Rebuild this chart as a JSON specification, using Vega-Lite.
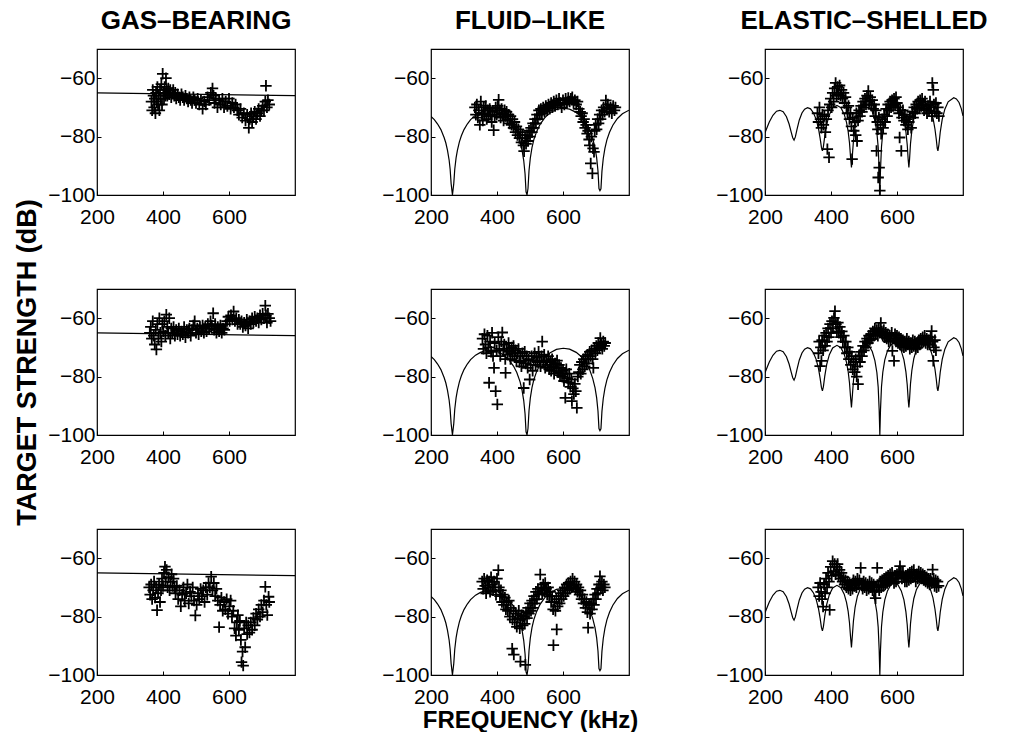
{
"$schema": "https://vega.github.io/schema/vega-lite/v6.json",
"background": "white",
"padding": {"left": 13, "top": 7, "right": 5, "bottom": 0},
"bounds": "flush",
"columns": 3,
"spacing": {"row": 94, "column": 136},
"datasets": {
"gm": [{"freq":200,"ts":-65},{"freq":800,"ts":-66}],
"fm": [{"freq":200,"ts":-73.1},{"freq":210,"ts":-74.2},{"freq":220,"ts":-75.7},{"freq":230,"ts":-77.6},{"freq":240,"ts":-80.4},{"freq":245,"ts":-82.2},{"freq":250,"ts":-84.7},{"freq":255,"ts":-88.1},{"freq":258,"ts":-91.2},{"freq":261,"ts":-96.1},{"freq":265,"ts":-100},{"freq":269,"ts":-96.1},{"freq":272,"ts":-91.2},{"freq":276,"ts":-87.3},{"freq":280,"ts":-84.7},{"freq":286,"ts":-81.8},{"freq":292,"ts":-79.7},{"freq":300,"ts":-77.6},{"freq":310,"ts":-75.7},{"freq":320,"ts":-74.2},{"freq":335,"ts":-72.65},{"freq":350,"ts":-71.7},{"freq":365,"ts":-71.1},{"freq":378,"ts":-71},{"freq":390,"ts":-71.1},{"freq":405,"ts":-71.6},{"freq":420,"ts":-72.6},{"freq":435,"ts":-74.1},{"freq":450,"ts":-76.4},{"freq":460,"ts":-78.6},{"freq":470,"ts":-81.8},{"freq":476,"ts":-84.7},{"freq":481,"ts":-88.2},{"freq":485,"ts":-92.7},{"freq":488,"ts":-98.9},{"freq":491,"ts":-100},{"freq":494,"ts":-97.7},{"freq":497,"ts":-91.7},{"freq":501,"ts":-87.3},{"freq":506,"ts":-83.8},{"freq":512,"ts":-80.9},{"freq":520,"ts":-78.3},{"freq":530,"ts":-75.9},{"freq":545,"ts":-73.5},{"freq":560,"ts":-71.9},{"freq":580,"ts":-70.7},{"freq":601,"ts":-70.3},{"freq":620,"ts":-70.6},{"freq":640,"ts":-71.7},{"freq":655,"ts":-73.1},{"freq":670,"ts":-75.3},{"freq":680,"ts":-77.4},{"freq":690,"ts":-80.6},{"freq":697,"ts":-83.8},{"freq":702,"ts":-87.3},{"freq":706,"ts":-91.8},{"freq":709,"ts":-97.8},{"freq":712,"ts":-98.5},{"freq":715,"ts":-97.9},{"freq":718,"ts":-91.9},{"freq":722,"ts":-87.5},{"freq":727,"ts":-84},{"freq":733,"ts":-81.1},{"freq":741,"ts":-78.5},{"freq":751,"ts":-76.1},{"freq":765,"ts":-73.8},{"freq":780,"ts":-72.2},{"freq":800,"ts":-70.95}],
"em": [{"freq":200,"ts":-78.7},{"freq":206,"ts":-77},{"freq":213,"ts":-75},{"freq":224,"ts":-72.7},{"freq":235,"ts":-71.3},{"freq":245,"ts":-71},{"freq":255,"ts":-71.5},{"freq":265,"ts":-73.2},{"freq":273,"ts":-75.7},{"freq":280,"ts":-78.7},{"freq":284,"ts":-80.4},{"freq":288,"ts":-81.2},{"freq":292,"ts":-80.1},{"freq":297,"ts":-77.5},{"freq":304,"ts":-74.3},{"freq":312,"ts":-71.9},{"freq":320,"ts":-70.6},{"freq":329,"ts":-70.1},{"freq":338,"ts":-70.5},{"freq":347,"ts":-71.9},{"freq":355,"ts":-74.1},{"freq":362,"ts":-77.2},{"freq":367,"ts":-80.5},{"freq":371,"ts":-83.7},{"freq":374,"ts":-84.9},{"freq":377,"ts":-83.4},{"freq":381,"ts":-79.9},{"freq":387,"ts":-75.8},{"freq":395,"ts":-72.5},{"freq":405,"ts":-70.2},{"freq":418,"ts":-69.3},{"freq":430,"ts":-70.1},{"freq":440,"ts":-72.3},{"freq":447,"ts":-75.1},{"freq":452,"ts":-78.2},{"freq":456,"ts":-82.1},{"freq":459,"ts":-86.6},{"freq":462,"ts":-90.6},{"freq":465,"ts":-86.1},{"freq":468,"ts":-81.5},{"freq":473,"ts":-76.8},{"freq":480,"ts":-73},{"freq":490,"ts":-70.2},{"freq":505,"ts":-68.8},{"freq":515,"ts":-69.4},{"freq":525,"ts":-71.4},{"freq":533,"ts":-74.5},{"freq":539,"ts":-78.6},{"freq":543,"ts":-83.6},{"freq":546,"ts":-91.5},{"freq":548,"ts":-100},{"freq":550,"ts":-91.4},{"freq":553,"ts":-83.5},{"freq":557,"ts":-78.5},{"freq":563,"ts":-74.3},{"freq":571,"ts":-71.2},{"freq":581,"ts":-69.2},{"freq":592,"ts":-68.5},{"freq":603,"ts":-69.2},{"freq":613,"ts":-71.2},{"freq":621,"ts":-74.3},{"freq":627,"ts":-78.4},{"freq":631,"ts":-82.8},{"freq":634,"ts":-88},{"freq":636,"ts":-90.6},{"freq":638,"ts":-87.8},{"freq":641,"ts":-82.3},{"freq":645,"ts":-77.9},{"freq":651,"ts":-73.8},{"freq":659,"ts":-70.7},{"freq":669,"ts":-68.7},{"freq":680,"ts":-68},{"freq":691,"ts":-68.7},{"freq":701,"ts":-70.6},{"freq":709,"ts":-73.6},{"freq":715,"ts":-77.4},{"freq":719,"ts":-80.9},{"freq":722,"ts":-84},{"freq":724,"ts":-84.9},{"freq":727,"ts":-82.8},{"freq":731,"ts":-78.5},{"freq":737,"ts":-74.1},{"freq":745,"ts":-70.6},{"freq":755,"ts":-68.1},{"freq":772,"ts":-66.7},{"freq":780,"ts":-67.1},{"freq":788,"ts":-68.3},{"freq":795,"ts":-70.5},{"freq":800,"ts":-72.9}],
"g1": [{"freq":365,"ts":-68},{"freq":367,"ts":-71},{"freq":369,"ts":-64},{"freq":371,"ts":-66},{"freq":373,"ts":-70},{"freq":375,"ts":-67},{"freq":377,"ts":-72},{"freq":379,"ts":-65},{"freq":381,"ts":-68},{"freq":383,"ts":-63},{"freq":385,"ts":-69},{"freq":387,"ts":-66},{"freq":389,"ts":-71},{"freq":391,"ts":-64},{"freq":393,"ts":-67},{"freq":395,"ts":-62},{"freq":397,"ts":-69},{"freq":399,"ts":-58.5},{"freq":401,"ts":-65},{"freq":403,"ts":-67},{"freq":405,"ts":-63},{"freq":407,"ts":-66},{"freq":409,"ts":-60},{"freq":411,"ts":-64},{"freq":413,"ts":-66},{"freq":416,"ts":-63.5},{"freq":419,"ts":-65.5},{"freq":422,"ts":-64},{"freq":425,"ts":-66.5},{"freq":428,"ts":-65},{"freq":431,"ts":-64},{"freq":434,"ts":-66},{"freq":437,"ts":-65},{"freq":440,"ts":-67},{"freq":444,"ts":-65.5},{"freq":448,"ts":-66.5},{"freq":452,"ts":-67.5},{"freq":456,"ts":-65.5},{"freq":460,"ts":-66.5},{"freq":464,"ts":-67.5},{"freq":468,"ts":-66},{"freq":472,"ts":-67},{"freq":476,"ts":-68},{"freq":480,"ts":-66.5},{"freq":484,"ts":-67.5},{"freq":488,"ts":-68.5},{"freq":492,"ts":-66.5},{"freq":496,"ts":-67.5},{"freq":500,"ts":-68.5},{"freq":505,"ts":-67},{"freq":510,"ts":-69},{"freq":515,"ts":-67.5},{"freq":520,"ts":-70.5},{"freq":525,"ts":-68},{"freq":530,"ts":-69},{"freq":535,"ts":-66.5},{"freq":540,"ts":-67.5},{"freq":545,"ts":-65},{"freq":550,"ts":-63.5},{"freq":553,"ts":-66},{"freq":556,"ts":-68.5},{"freq":560,"ts":-67},{"freq":565,"ts":-70},{"freq":570,"ts":-67.5},{"freq":575,"ts":-69},{"freq":580,"ts":-67},{"freq":585,"ts":-70},{"freq":590,"ts":-68},{"freq":595,"ts":-69.5},{"freq":600,"ts":-67},{"freq":605,"ts":-70.5},{"freq":610,"ts":-68.5},{"freq":615,"ts":-70},{"freq":620,"ts":-69},{"freq":625,"ts":-71},{"freq":630,"ts":-72.5},{"freq":635,"ts":-70.5},{"freq":640,"ts":-73.5},{"freq":645,"ts":-72},{"freq":650,"ts":-74.5},{"freq":655,"ts":-72.5},{"freq":660,"ts":-77},{"freq":663,"ts":-74},{"freq":667,"ts":-72},{"freq":670,"ts":-75},{"freq":674,"ts":-73},{"freq":678,"ts":-71.5},{"freq":682,"ts":-74},{"freq":686,"ts":-72},{"freq":690,"ts":-70.5},{"freq":694,"ts":-73},{"freq":698,"ts":-71},{"freq":702,"ts":-69.5},{"freq":706,"ts":-71},{"freq":710,"ts":-68},{"freq":712,"ts":-62.6},{"freq":715,"ts":-70},{"freq":718,"ts":-67.5},{"freq":722,"ts":-69}],
"g2": [{"freq":360,"ts":-65},{"freq":363,"ts":-63},{"freq":366,"ts":-67},{"freq":369,"ts":-61},{"freq":372,"ts":-66},{"freq":375,"ts":-69},{"freq":378,"ts":-64},{"freq":380,"ts":-70.7},{"freq":383,"ts":-62},{"freq":386,"ts":-67},{"freq":389,"ts":-60},{"freq":392,"ts":-65},{"freq":395,"ts":-68},{"freq":398,"ts":-62},{"freq":401,"ts":-64.5},{"freq":404,"ts":-61},{"freq":407,"ts":-66},{"freq":410,"ts":-58.8},{"freq":413,"ts":-63},{"freq":416,"ts":-65},{"freq":419,"ts":-60},{"freq":422,"ts":-67},{"freq":425,"ts":-63.5},{"freq":428,"ts":-65},{"freq":432,"ts":-63},{"freq":436,"ts":-66},{"freq":440,"ts":-64},{"freq":444,"ts":-65.5},{"freq":448,"ts":-63.5},{"freq":452,"ts":-66},{"freq":456,"ts":-64.5},{"freq":460,"ts":-65.5},{"freq":464,"ts":-63},{"freq":468,"ts":-66.5},{"freq":472,"ts":-64},{"freq":476,"ts":-65},{"freq":480,"ts":-63.5},{"freq":484,"ts":-66},{"freq":488,"ts":-64},{"freq":492,"ts":-62.5},{"freq":496,"ts":-61},{"freq":500,"ts":-65},{"freq":504,"ts":-63.5},{"freq":508,"ts":-65.5},{"freq":512,"ts":-63},{"freq":516,"ts":-64.5},{"freq":520,"ts":-62.5},{"freq":524,"ts":-65},{"freq":528,"ts":-63},{"freq":532,"ts":-64.5},{"freq":536,"ts":-62},{"freq":540,"ts":-63.5},{"freq":544,"ts":-61},{"freq":548,"ts":-62.5},{"freq":552,"ts":-58.3},{"freq":555,"ts":-64},{"freq":558,"ts":-62},{"freq":562,"ts":-65},{"freq":566,"ts":-63},{"freq":570,"ts":-64.5},{"freq":574,"ts":-62.5},{"freq":578,"ts":-65},{"freq":582,"ts":-63.5},{"freq":586,"ts":-64},{"freq":590,"ts":-62},{"freq":594,"ts":-61},{"freq":598,"ts":-59.5},{"freq":602,"ts":-61},{"freq":606,"ts":-59},{"freq":610,"ts":-60.5},{"freq":614,"ts":-57.7},{"freq":618,"ts":-61},{"freq":622,"ts":-60},{"freq":626,"ts":-62},{"freq":630,"ts":-60.5},{"freq":634,"ts":-62},{"freq":638,"ts":-61},{"freq":642,"ts":-63},{"freq":646,"ts":-61.5},{"freq":650,"ts":-62.5},{"freq":654,"ts":-60.5},{"freq":658,"ts":-63.5},{"freq":662,"ts":-61},{"freq":666,"ts":-62},{"freq":670,"ts":-60},{"freq":674,"ts":-61.5},{"freq":678,"ts":-59.5},{"freq":682,"ts":-61},{"freq":686,"ts":-60},{"freq":690,"ts":-61.5},{"freq":694,"ts":-59},{"freq":698,"ts":-60.5},{"freq":702,"ts":-58.5},{"freq":706,"ts":-60},{"freq":710,"ts":-55.7},{"freq":712,"ts":-59},{"freq":715,"ts":-61.5},{"freq":718,"ts":-58.5},{"freq":722,"ts":-60},{"freq":726,"ts":-61}],
"g3": [{"freq":358,"ts":-70},{"freq":361,"ts":-72.5},{"freq":364,"ts":-69},{"freq":367,"ts":-74},{"freq":370,"ts":-71},{"freq":373,"ts":-68},{"freq":376,"ts":-73.5},{"freq":379,"ts":-70},{"freq":382,"ts":-77.8},{"freq":385,"ts":-72},{"freq":388,"ts":-69},{"freq":391,"ts":-75},{"freq":394,"ts":-71},{"freq":397,"ts":-67},{"freq":400,"ts":-69.5},{"freq":403,"ts":-65},{"freq":406,"ts":-62.9},{"freq":408,"ts":-68},{"freq":411,"ts":-64},{"freq":414,"ts":-70},{"freq":417,"ts":-66.5},{"freq":420,"ts":-71},{"freq":423,"ts":-68},{"freq":426,"ts":-65.5},{"freq":429,"ts":-69.5},{"freq":432,"ts":-67},{"freq":435,"ts":-70},{"freq":438,"ts":-72},{"freq":442,"ts":-69.5},{"freq":446,"ts":-74},{"freq":450,"ts":-71},{"freq":454,"ts":-76.5},{"freq":458,"ts":-72.5},{"freq":462,"ts":-70},{"freq":466,"ts":-74.5},{"freq":470,"ts":-72},{"freq":474,"ts":-69},{"freq":478,"ts":-75.5},{"freq":482,"ts":-71.5},{"freq":486,"ts":-73},{"freq":490,"ts":-70},{"freq":494,"ts":-74.5},{"freq":498,"ts":-79.6},{"freq":502,"ts":-76},{"freq":506,"ts":-72},{"freq":510,"ts":-74},{"freq":514,"ts":-70.5},{"freq":518,"ts":-73},{"freq":522,"ts":-71},{"freq":526,"ts":-75},{"freq":530,"ts":-70},{"freq":534,"ts":-72.5},{"freq":538,"ts":-68.5},{"freq":542,"ts":-70},{"freq":546,"ts":-66.3},{"freq":550,"ts":-71},{"freq":554,"ts":-68.5},{"freq":558,"ts":-73},{"freq":562,"ts":-70.5},{"freq":566,"ts":-74.5},{"freq":570,"ts":-83.6},{"freq":573,"ts":-76},{"freq":577,"ts":-73.5},{"freq":581,"ts":-78},{"freq":585,"ts":-75},{"freq":589,"ts":-77.5},{"freq":593,"ts":-74},{"freq":597,"ts":-79},{"freq":601,"ts":-76.5},{"freq":605,"ts":-74.5},{"freq":609,"ts":-80},{"freq":613,"ts":-78},{"freq":617,"ts":-84},{"freq":621,"ts":-86.5},{"freq":624,"ts":-82},{"freq":627,"ts":-79.5},{"freq":630,"ts":-84.5},{"freq":633,"ts":-81.5},{"freq":636,"ts":-88},{"freq":638,"ts":-95.6},{"freq":641,"ts":-92},{"freq":643,"ts":-96.8},{"freq":646,"ts":-84},{"freq":649,"ts":-90.5},{"freq":652,"ts":-82},{"freq":655,"ts":-86},{"freq":658,"ts":-83},{"freq":662,"ts":-85.5},{"freq":666,"ts":-82},{"freq":670,"ts":-84.5},{"freq":674,"ts":-80.5},{"freq":678,"ts":-83},{"freq":682,"ts":-79},{"freq":686,"ts":-81},{"freq":690,"ts":-77.5},{"freq":694,"ts":-80},{"freq":698,"ts":-76},{"freq":702,"ts":-78.5},{"freq":706,"ts":-74.5},{"freq":710,"ts":-69.8},{"freq":713,"ts":-76},{"freq":716,"ts":-79.5},{"freq":720,"ts":-73.2},{"freq":722,"ts":-75}],
"f1": [{"freq":333,"ts":-70},{"freq":336,"ts":-72.5},{"freq":339,"ts":-69},{"freq":342,"ts":-73.5},{"freq":345,"ts":-71},{"freq":348,"ts":-76},{"freq":351,"ts":-68},{"freq":354,"ts":-72},{"freq":357,"ts":-74.5},{"freq":360,"ts":-70},{"freq":363,"ts":-72.5},{"freq":366,"ts":-69.5},{"freq":369,"ts":-74},{"freq":372,"ts":-71},{"freq":375,"ts":-73},{"freq":378,"ts":-70.5},{"freq":381,"ts":-72.5},{"freq":384,"ts":-75},{"freq":387,"ts":-71.5},{"freq":390,"ts":-77.8},{"freq":393,"ts":-73},{"freq":396,"ts":-70},{"freq":399,"ts":-72.5},{"freq":402,"ts":-69.5},{"freq":405,"ts":-67.4},{"freq":408,"ts":-71},{"freq":411,"ts":-73.5},{"freq":414,"ts":-70.5},{"freq":417,"ts":-72},{"freq":420,"ts":-74.5},{"freq":423,"ts":-71},{"freq":426,"ts":-73},{"freq":429,"ts":-71.5},{"freq":432,"ts":-74},{"freq":435,"ts":-72.5},{"freq":438,"ts":-75.5},{"freq":441,"ts":-73},{"freq":444,"ts":-76},{"freq":447,"ts":-74},{"freq":450,"ts":-77},{"freq":453,"ts":-75},{"freq":456,"ts":-78.5},{"freq":459,"ts":-76.5},{"freq":462,"ts":-79.5},{"freq":465,"ts":-77.5},{"freq":468,"ts":-80.5},{"freq":471,"ts":-78.5},{"freq":474,"ts":-82},{"freq":477,"ts":-79.5},{"freq":480,"ts":-83},{"freq":482,"ts":-85},{"freq":485,"ts":-80.5},{"freq":488,"ts":-82.5},{"freq":491,"ts":-79.5},{"freq":494,"ts":-81.5},{"freq":497,"ts":-78},{"freq":500,"ts":-80},{"freq":503,"ts":-77},{"freq":506,"ts":-78.5},{"freq":509,"ts":-75.5},{"freq":512,"ts":-77},{"freq":515,"ts":-74},{"freq":518,"ts":-75.5},{"freq":521,"ts":-72.5},{"freq":524,"ts":-74},{"freq":527,"ts":-71},{"freq":530,"ts":-72.5},{"freq":533,"ts":-70.5},{"freq":536,"ts":-72},{"freq":540,"ts":-70},{"freq":544,"ts":-71.5},{"freq":548,"ts":-69.5},{"freq":552,"ts":-71},{"freq":556,"ts":-69},{"freq":560,"ts":-70.5},{"freq":564,"ts":-68.5},{"freq":568,"ts":-70},{"freq":572,"ts":-68},{"freq":576,"ts":-69.5},{"freq":580,"ts":-67.5},{"freq":584,"ts":-69},{"freq":588,"ts":-67},{"freq":592,"ts":-68.5},{"freq":596,"ts":-70},{"freq":600,"ts":-67.5},{"freq":604,"ts":-69},{"freq":608,"ts":-67},{"freq":612,"ts":-68.5},{"freq":616,"ts":-66.8},{"freq":620,"ts":-68},{"freq":624,"ts":-67},{"freq":628,"ts":-66.5},{"freq":632,"ts":-68.5},{"freq":636,"ts":-67.5},{"freq":640,"ts":-69},{"freq":644,"ts":-68},{"freq":648,"ts":-70.5},{"freq":652,"ts":-71.5},{"freq":655,"ts":-73},{"freq":658,"ts":-72},{"freq":661,"ts":-75},{"freq":664,"ts":-74},{"freq":667,"ts":-77},{"freq":670,"ts":-76},{"freq":673,"ts":-79},{"freq":676,"ts":-78},{"freq":679,"ts":-81},{"freq":681,"ts":-83},{"freq":684,"ts":-89.2},{"freq":686,"ts":-80},{"freq":689,"ts":-92.6},{"freq":691,"ts":-84},{"freq":694,"ts":-85.2},{"freq":696,"ts":-78},{"freq":699,"ts":-76},{"freq":702,"ts":-77.5},{"freq":705,"ts":-74},{"freq":708,"ts":-75.5},{"freq":711,"ts":-72.5},{"freq":714,"ts":-74},{"freq":717,"ts":-71},{"freq":720,"ts":-72.5},{"freq":723,"ts":-70},{"freq":726,"ts":-71.5},{"freq":730,"ts":-67.6},{"freq":733,"ts":-70.5},{"freq":736,"ts":-69},{"freq":740,"ts":-71.5},{"freq":744,"ts":-70},{"freq":748,"ts":-72},{"freq":752,"ts":-69.5},{"freq":756,"ts":-71},{"freq":759,"ts":-70}],
"f2": [{"freq":356,"ts":-67},{"freq":359,"ts":-70.5},{"freq":362,"ts":-65.5},{"freq":365,"ts":-69},{"freq":368,"ts":-72},{"freq":371,"ts":-66},{"freq":374,"ts":-70},{"freq":376,"ts":-82.1},{"freq":379,"ts":-68},{"freq":382,"ts":-71.5},{"freq":385,"ts":-65},{"freq":388,"ts":-73},{"freq":391,"ts":-77},{"freq":393,"ts":-68.5},{"freq":396,"ts":-85},{"freq":399,"ts":-71},{"freq":401,"ts":-89.5},{"freq":404,"ts":-66.5},{"freq":407,"ts":-70.5},{"freq":410,"ts":-73},{"freq":413,"ts":-68},{"freq":416,"ts":-64.9},{"freq":419,"ts":-71},{"freq":422,"ts":-69},{"freq":425,"ts":-74},{"freq":426,"ts":-78.7},{"freq":429,"ts":-70.5},{"freq":432,"ts":-72.5},{"freq":435,"ts":-68.5},{"freq":438,"ts":-71.5},{"freq":441,"ts":-74},{"freq":444,"ts":-70},{"freq":447,"ts":-72},{"freq":450,"ts":-69.5},{"freq":453,"ts":-73},{"freq":456,"ts":-71},{"freq":459,"ts":-74.5},{"freq":462,"ts":-72},{"freq":465,"ts":-70.5},{"freq":468,"ts":-75},{"freq":471,"ts":-73},{"freq":474,"ts":-76.5},{"freq":477,"ts":-72},{"freq":480,"ts":-74.5},{"freq":481,"ts":-83.9},{"freq":484,"ts":-71.5},{"freq":487,"ts":-75.5},{"freq":490,"ts":-73},{"freq":493,"ts":-77},{"freq":496,"ts":-74},{"freq":499,"ts":-81},{"freq":502,"ts":-76},{"freq":505,"ts":-73},{"freq":508,"ts":-78},{"freq":511,"ts":-74.5},{"freq":514,"ts":-72},{"freq":517,"ts":-76},{"freq":520,"ts":-73.5},{"freq":523,"ts":-75},{"freq":526,"ts":-71.5},{"freq":529,"ts":-74.5},{"freq":532,"ts":-76.5},{"freq":535,"ts":-73},{"freq":537,"ts":-68},{"freq":540,"ts":-75},{"freq":543,"ts":-72.5},{"freq":546,"ts":-77},{"freq":549,"ts":-74.5},{"freq":552,"ts":-76},{"freq":555,"ts":-73},{"freq":558,"ts":-77.5},{"freq":561,"ts":-75},{"freq":564,"ts":-78},{"freq":567,"ts":-74},{"freq":570,"ts":-76.5},{"freq":573,"ts":-79},{"freq":576,"ts":-75.5},{"freq":579,"ts":-77},{"freq":582,"ts":-74.5},{"freq":585,"ts":-78.5},{"freq":588,"ts":-76},{"freq":591,"ts":-79.5},{"freq":594,"ts":-77},{"freq":597,"ts":-80},{"freq":600,"ts":-78},{"freq":603,"ts":-81.5},{"freq":606,"ts":-79},{"freq":607,"ts":-87.3},{"freq":610,"ts":-77.5},{"freq":613,"ts":-80.5},{"freq":616,"ts":-82},{"freq":619,"ts":-79},{"freq":622,"ts":-83.5},{"freq":625,"ts":-81},{"freq":627,"ts":-88.4},{"freq":630,"ts":-84},{"freq":633,"ts":-86},{"freq":636,"ts":-82.5},{"freq":639,"ts":-85},{"freq":642,"ts":-90.7},{"freq":645,"ts":-80},{"freq":648,"ts":-78.5},{"freq":651,"ts":-76},{"freq":654,"ts":-79},{"freq":657,"ts":-75},{"freq":660,"ts":-77.5},{"freq":663,"ts":-74},{"freq":666,"ts":-76.5},{"freq":669,"ts":-73},{"freq":672,"ts":-75.5},{"freq":675,"ts":-72.5},{"freq":678,"ts":-74},{"freq":681,"ts":-71.5},{"freq":684,"ts":-73},{"freq":687,"ts":-71},{"freq":690,"ts":-74},{"freq":692,"ts":-77},{"freq":695,"ts":-70.5},{"freq":698,"ts":-72},{"freq":701,"ts":-69.5},{"freq":704,"ts":-71},{"freq":707,"ts":-68.5},{"freq":710,"ts":-70},{"freq":713,"ts":-66.8},{"freq":716,"ts":-69},{"freq":719,"ts":-70.5},{"freq":722,"ts":-68},{"freq":725,"ts":-69.5},{"freq":728,"ts":-68.5}],
"f3": [{"freq":355,"ts":-68},{"freq":358,"ts":-70.5},{"freq":361,"ts":-67},{"freq":364,"ts":-69.5},{"freq":367,"ts":-72},{"freq":370,"ts":-67.5},{"freq":373,"ts":-70},{"freq":376,"ts":-68},{"freq":379,"ts":-71.5},{"freq":382,"ts":-66.5},{"freq":385,"ts":-69},{"freq":388,"ts":-71},{"freq":391,"ts":-68},{"freq":394,"ts":-70},{"freq":397,"ts":-72.5},{"freq":400,"ts":-67},{"freq":404,"ts":-64.1},{"freq":406,"ts":-70},{"freq":409,"ts":-73},{"freq":412,"ts":-71},{"freq":415,"ts":-75},{"freq":418,"ts":-72.5},{"freq":421,"ts":-76},{"freq":424,"ts":-73.5},{"freq":427,"ts":-77.5},{"freq":430,"ts":-75},{"freq":433,"ts":-78},{"freq":436,"ts":-74.5},{"freq":439,"ts":-80},{"freq":442,"ts":-77},{"freq":446,"ts":-91},{"freq":447,"ts":-81},{"freq":450,"ts":-78},{"freq":451,"ts":-93},{"freq":454,"ts":-82},{"freq":457,"ts":-79},{"freq":460,"ts":-83.5},{"freq":463,"ts":-80.5},{"freq":466,"ts":-78},{"freq":469,"ts":-84},{"freq":471,"ts":-95.4},{"freq":472,"ts":-81},{"freq":475,"ts":-79.5},{"freq":478,"ts":-83},{"freq":481,"ts":-80},{"freq":484,"ts":-82.5},{"freq":486,"ts":-96.5},{"freq":488,"ts":-78.5},{"freq":491,"ts":-80.5},{"freq":494,"ts":-77},{"freq":497,"ts":-79},{"freq":500,"ts":-75.5},{"freq":503,"ts":-78},{"freq":506,"ts":-74.5},{"freq":509,"ts":-77},{"freq":512,"ts":-73},{"freq":515,"ts":-75.5},{"freq":518,"ts":-71.5},{"freq":521,"ts":-74},{"freq":524,"ts":-70.5},{"freq":527,"ts":-72.5},{"freq":531,"ts":-65.6},{"freq":534,"ts":-70},{"freq":537,"ts":-72},{"freq":540,"ts":-69},{"freq":543,"ts":-71},{"freq":546,"ts":-68.5},{"freq":549,"ts":-70.5},{"freq":552,"ts":-72.5},{"freq":555,"ts":-70},{"freq":558,"ts":-73},{"freq":561,"ts":-71.5},{"freq":564,"ts":-75},{"freq":567,"ts":-73},{"freq":570,"ts":-77.5},{"freq":571,"ts":-89.8},{"freq":574,"ts":-75},{"freq":577,"ts":-78},{"freq":580,"ts":-74},{"freq":581,"ts":-84.4},{"freq":584,"ts":-76.5},{"freq":587,"ts":-73},{"freq":590,"ts":-75.5},{"freq":593,"ts":-72},{"freq":596,"ts":-74},{"freq":599,"ts":-71},{"freq":602,"ts":-73},{"freq":605,"ts":-70},{"freq":608,"ts":-72},{"freq":611,"ts":-69},{"freq":614,"ts":-71},{"freq":617,"ts":-68.5},{"freq":620,"ts":-70.5},{"freq":623,"ts":-68},{"freq":626,"ts":-70},{"freq":629,"ts":-67},{"freq":632,"ts":-69.5},{"freq":635,"ts":-68},{"freq":638,"ts":-70.5},{"freq":641,"ts":-69},{"freq":644,"ts":-71.5},{"freq":647,"ts":-70},{"freq":650,"ts":-72.5},{"freq":653,"ts":-71},{"freq":656,"ts":-74},{"freq":659,"ts":-72.5},{"freq":662,"ts":-75.5},{"freq":665,"ts":-74},{"freq":668,"ts":-77},{"freq":671,"ts":-75},{"freq":674,"ts":-78.5},{"freq":676,"ts":-83.8},{"freq":679,"ts":-76},{"freq":682,"ts":-79},{"freq":685,"ts":-75.5},{"freq":688,"ts":-77.5},{"freq":691,"ts":-74},{"freq":694,"ts":-76},{"freq":697,"ts":-72.5},{"freq":700,"ts":-74},{"freq":703,"ts":-70.5},{"freq":706,"ts":-72},{"freq":709,"ts":-69},{"freq":712,"ts":-66.2},{"freq":715,"ts":-70},{"freq":718,"ts":-68},{"freq":721,"ts":-71},{"freq":724,"ts":-69},{"freq":727,"ts":-70}],
"e1": [{"freq":359,"ts":-72},{"freq":362,"ts":-75},{"freq":365,"ts":-70},{"freq":368,"ts":-74},{"freq":371,"ts":-77},{"freq":374,"ts":-72.5},{"freq":377,"ts":-76},{"freq":380,"ts":-73},{"freq":383,"ts":-78.5},{"freq":386,"ts":-74},{"freq":389,"ts":-84.3},{"freq":391,"ts":-71},{"freq":394,"ts":-87.1},{"freq":396,"ts":-69},{"freq":399,"ts":-67},{"freq":402,"ts":-70},{"freq":405,"ts":-65},{"freq":408,"ts":-68},{"freq":411,"ts":-63.5},{"freq":414,"ts":-61.6},{"freq":417,"ts":-66},{"freq":420,"ts":-63},{"freq":423,"ts":-65.5},{"freq":426,"ts":-62.5},{"freq":429,"ts":-66},{"freq":432,"ts":-64},{"freq":435,"ts":-67},{"freq":438,"ts":-65},{"freq":441,"ts":-68.5},{"freq":444,"ts":-66.5},{"freq":447,"ts":-70},{"freq":450,"ts":-72},{"freq":453,"ts":-69.5},{"freq":456,"ts":-74},{"freq":459,"ts":-72},{"freq":462,"ts":-76.5},{"freq":464,"ts":-87.7},{"freq":466,"ts":-73.5},{"freq":469,"ts":-78},{"freq":472,"ts":-75},{"freq":475,"ts":-79.5},{"freq":477,"ts":-72},{"freq":479,"ts":-81.5},{"freq":482,"ts":-74.5},{"freq":485,"ts":-71},{"freq":488,"ts":-73},{"freq":491,"ts":-69.5},{"freq":494,"ts":-71.5},{"freq":497,"ts":-68},{"freq":500,"ts":-70},{"freq":503,"ts":-67},{"freq":506,"ts":-69},{"freq":509,"ts":-66},{"freq":513,"ts":-64.4},{"freq":516,"ts":-68},{"freq":519,"ts":-66.5},{"freq":522,"ts":-69},{"freq":525,"ts":-67.5},{"freq":528,"ts":-70.5},{"freq":531,"ts":-69},{"freq":534,"ts":-73},{"freq":536,"ts":-71},{"freq":538,"ts":-84.9},{"freq":540,"ts":-75},{"freq":542,"ts":-77.5},{"freq":543,"ts":-94},{"freq":545,"ts":-73.5},{"freq":546,"ts":-90.6},{"freq":548,"ts":-98.5},{"freq":550,"ts":-76},{"freq":552,"ts":-79},{"freq":555,"ts":-74},{"freq":558,"ts":-77},{"freq":561,"ts":-72.5},{"freq":564,"ts":-75},{"freq":567,"ts":-70.5},{"freq":570,"ts":-73},{"freq":573,"ts":-69},{"freq":576,"ts":-71},{"freq":579,"ts":-68},{"freq":582,"ts":-70},{"freq":585,"ts":-67.5},{"freq":588,"ts":-69.5},{"freq":591,"ts":-67},{"freq":594,"ts":-69},{"freq":597,"ts":-66.5},{"freq":600,"ts":-68.5},{"freq":603,"ts":-70},{"freq":606,"ts":-72},{"freq":608,"ts":-80.3},{"freq":610,"ts":-71},{"freq":613,"ts":-84.9},{"freq":615,"ts":-73.5},{"freq":618,"ts":-71},{"freq":621,"ts":-74.5},{"freq":624,"ts":-72.5},{"freq":627,"ts":-76},{"freq":630,"ts":-74},{"freq":633,"ts":-77.5},{"freq":636,"ts":-75},{"freq":639,"ts":-73},{"freq":643,"ts":-77},{"freq":646,"ts":-71.5},{"freq":649,"ts":-73.5},{"freq":652,"ts":-70},{"freq":655,"ts":-72},{"freq":658,"ts":-69},{"freq":661,"ts":-70.5},{"freq":664,"ts":-68},{"freq":667,"ts":-70},{"freq":670,"ts":-67.5},{"freq":673,"ts":-69.5},{"freq":676,"ts":-67},{"freq":679,"ts":-69},{"freq":682,"ts":-71},{"freq":685,"ts":-68},{"freq":688,"ts":-70.5},{"freq":691,"ts":-72},{"freq":694,"ts":-69.5},{"freq":697,"ts":-71},{"freq":700,"ts":-68},{"freq":703,"ts":-70},{"freq":706,"ts":-73},{"freq":707,"ts":-61.6},{"freq":710,"ts":-64},{"freq":712,"ts":-69},{"freq":715,"ts":-71.5},{"freq":718,"ts":-68.5},{"freq":721,"ts":-72},{"freq":724,"ts":-70},{"freq":727,"ts":-73}],
"e2": [{"freq":362,"ts":-72},{"freq":364,"ts":-68},{"freq":367,"ts":-76.4},{"freq":369,"ts":-70},{"freq":371,"ts":-74.6},{"freq":373,"ts":-67.5},{"freq":376,"ts":-71},{"freq":379,"ts":-66},{"freq":382,"ts":-69.5},{"freq":385,"ts":-65},{"freq":388,"ts":-68},{"freq":391,"ts":-63.5},{"freq":394,"ts":-66.5},{"freq":397,"ts":-62},{"freq":400,"ts":-65},{"freq":403,"ts":-61},{"freq":406,"ts":-63.5},{"freq":409,"ts":-59.9},{"freq":412,"ts":-57.6},{"freq":415,"ts":-62},{"freq":418,"ts":-64.5},{"freq":421,"ts":-61.5},{"freq":424,"ts":-65},{"freq":427,"ts":-63},{"freq":430,"ts":-66.5},{"freq":433,"ts":-64.5},{"freq":436,"ts":-68},{"freq":439,"ts":-66},{"freq":442,"ts":-70},{"freq":445,"ts":-68},{"freq":448,"ts":-72},{"freq":451,"ts":-70},{"freq":454,"ts":-74},{"freq":457,"ts":-71.5},{"freq":460,"ts":-76},{"freq":463,"ts":-73},{"freq":466,"ts":-77.5},{"freq":469,"ts":-75},{"freq":472,"ts":-78.5},{"freq":475,"ts":-74},{"freq":478,"ts":-80},{"freq":480,"ts":-76.5},{"freq":482,"ts":-82.6},{"freq":485,"ts":-73},{"freq":488,"ts":-75},{"freq":491,"ts":-71.5},{"freq":494,"ts":-73},{"freq":497,"ts":-69.5},{"freq":500,"ts":-71},{"freq":503,"ts":-68},{"freq":506,"ts":-70},{"freq":509,"ts":-67},{"freq":512,"ts":-68.5},{"freq":515,"ts":-66},{"freq":518,"ts":-67.5},{"freq":521,"ts":-65.5},{"freq":524,"ts":-67},{"freq":527,"ts":-64.5},{"freq":530,"ts":-66},{"freq":533,"ts":-63.5},{"freq":536,"ts":-65.5},{"freq":539,"ts":-64},{"freq":542,"ts":-66},{"freq":545,"ts":-63.5},{"freq":548,"ts":-65},{"freq":551,"ts":-61.6},{"freq":554,"ts":-64.5},{"freq":557,"ts":-66},{"freq":560,"ts":-64},{"freq":563,"ts":-66.5},{"freq":566,"ts":-65},{"freq":569,"ts":-67},{"freq":572,"ts":-65.5},{"freq":575,"ts":-68},{"freq":578,"ts":-66},{"freq":581,"ts":-67.5},{"freq":584,"ts":-65},{"freq":586,"ts":-71.2},{"freq":588,"ts":-67},{"freq":591,"ts":-74.6},{"freq":594,"ts":-65.5},{"freq":597,"ts":-68},{"freq":600,"ts":-66},{"freq":603,"ts":-68.5},{"freq":606,"ts":-66.5},{"freq":609,"ts":-69},{"freq":612,"ts":-67},{"freq":615,"ts":-69.5},{"freq":618,"ts":-67.5},{"freq":621,"ts":-70},{"freq":624,"ts":-68},{"freq":627,"ts":-69.5},{"freq":630,"ts":-67},{"freq":633,"ts":-69},{"freq":636,"ts":-68},{"freq":639,"ts":-70.5},{"freq":642,"ts":-68.5},{"freq":645,"ts":-70},{"freq":648,"ts":-67.5},{"freq":651,"ts":-69.5},{"freq":654,"ts":-68},{"freq":657,"ts":-70.5},{"freq":660,"ts":-68.5},{"freq":663,"ts":-70},{"freq":666,"ts":-67.5},{"freq":669,"ts":-69},{"freq":672,"ts":-67},{"freq":675,"ts":-68.5},{"freq":678,"ts":-66.5},{"freq":681,"ts":-68},{"freq":684,"ts":-66},{"freq":687,"ts":-68.5},{"freq":690,"ts":-67},{"freq":693,"ts":-69},{"freq":696,"ts":-67.5},{"freq":699,"ts":-69},{"freq":702,"ts":-66.5},{"freq":705,"ts":-64.4},{"freq":708,"ts":-68},{"freq":710,"ts":-74.6},{"freq":712,"ts":-70},{"freq":715,"ts":-67.5},{"freq":718,"ts":-71}],
"e3": [{"freq":361,"ts":-70},{"freq":364,"ts":-73},{"freq":367,"ts":-68.5},{"freq":370,"ts":-71.5},{"freq":373,"ts":-74},{"freq":376,"ts":-76.6},{"freq":379,"ts":-69},{"freq":382,"ts":-72},{"freq":385,"ts":-67},{"freq":388,"ts":-70},{"freq":391,"ts":-65},{"freq":394,"ts":-68},{"freq":396,"ts":-77.7},{"freq":399,"ts":-63},{"freq":402,"ts":-66},{"freq":405,"ts":-61},{"freq":408,"ts":-64.5},{"freq":411,"ts":-62},{"freq":414,"ts":-65.5},{"freq":417,"ts":-63},{"freq":420,"ts":-62},{"freq":423,"ts":-66},{"freq":426,"ts":-64},{"freq":429,"ts":-67},{"freq":432,"ts":-65},{"freq":435,"ts":-68},{"freq":438,"ts":-66.5},{"freq":441,"ts":-69},{"freq":444,"ts":-67.5},{"freq":447,"ts":-70},{"freq":450,"ts":-68},{"freq":453,"ts":-70.5},{"freq":456,"ts":-68.5},{"freq":459,"ts":-71},{"freq":462,"ts":-69},{"freq":465,"ts":-70.5},{"freq":468,"ts":-67.5},{"freq":471,"ts":-69.5},{"freq":474,"ts":-68},{"freq":477,"ts":-70},{"freq":480,"ts":-67},{"freq":483,"ts":-69},{"freq":486,"ts":-67.5},{"freq":490,"ts":-63.3},{"freq":493,"ts":-69},{"freq":496,"ts":-70.5},{"freq":499,"ts":-68},{"freq":502,"ts":-70},{"freq":505,"ts":-68.5},{"freq":508,"ts":-71},{"freq":511,"ts":-69},{"freq":514,"ts":-70.5},{"freq":517,"ts":-68},{"freq":520,"ts":-70},{"freq":523,"ts":-68.5},{"freq":526,"ts":-71},{"freq":529,"ts":-69},{"freq":532,"ts":-71.5},{"freq":535,"ts":-73.7},{"freq":538,"ts":-70},{"freq":540,"ts":-63.3},{"freq":543,"ts":-69.5},{"freq":546,"ts":-71},{"freq":549,"ts":-68},{"freq":552,"ts":-70},{"freq":555,"ts":-67.5},{"freq":558,"ts":-69.5},{"freq":561,"ts":-67},{"freq":564,"ts":-69},{"freq":567,"ts":-66.5},{"freq":570,"ts":-68.5},{"freq":573,"ts":-66},{"freq":576,"ts":-68},{"freq":579,"ts":-65.5},{"freq":582,"ts":-67.5},{"freq":585,"ts":-65},{"freq":588,"ts":-67},{"freq":591,"ts":-68.5},{"freq":594,"ts":-66},{"freq":597,"ts":-68},{"freq":600,"ts":-65.5},{"freq":603,"ts":-67},{"freq":606,"ts":-64.5},{"freq":609,"ts":-62.7},{"freq":612,"ts":-65},{"freq":615,"ts":-67},{"freq":618,"ts":-65},{"freq":621,"ts":-66.5},{"freq":624,"ts":-68},{"freq":627,"ts":-66},{"freq":630,"ts":-68},{"freq":633,"ts":-65.5},{"freq":636,"ts":-67.5},{"freq":639,"ts":-65},{"freq":642,"ts":-67},{"freq":645,"ts":-64.5},{"freq":648,"ts":-66.5},{"freq":651,"ts":-64},{"freq":654,"ts":-66},{"freq":657,"ts":-68},{"freq":660,"ts":-65.5},{"freq":663,"ts":-67},{"freq":666,"ts":-64.5},{"freq":669,"ts":-66.5},{"freq":672,"ts":-65},{"freq":675,"ts":-67},{"freq":678,"ts":-65.5},{"freq":681,"ts":-67.5},{"freq":684,"ts":-66},{"freq":687,"ts":-68},{"freq":690,"ts":-66.5},{"freq":693,"ts":-68.5},{"freq":696,"ts":-67},{"freq":699,"ts":-69},{"freq":702,"ts":-67},{"freq":705,"ts":-68.5},{"freq":708,"ts":-63.9},{"freq":711,"ts":-67},{"freq":714,"ts":-69.5},{"freq":717,"ts":-67.5},{"freq":720,"ts":-70},{"freq":723,"ts":-68},{"freq":726,"ts":-69.5}]
},
"concat": [
{"width":198,"height":146,"title":{"text":"GAS–BEARING"},
 "encoding":{"x":{"field":"freq","type":"quantitative","scale":{"domain":[200,800],"nice":false,"zero":false},"axis":{"values":[200,400,600],"title":null}},"y":{"field":"ts","type":"quantitative","scale":{"domain":[-100,-50],"nice":false,"zero":false},"axis":{"values":[-100,-80,-60],"title":null}}},
 "layer":[{"data":{"name":"gm"},"mark":{"type":"line","clip":true}},{"data":{"name":"g1"},"mark":{"type":"point","clip":true}}]},
{"width":198,"height":146,"title":{"text":"FLUID–LIKE"},
 "encoding":{"x":{"field":"freq","type":"quantitative","scale":{"domain":[200,800],"nice":false,"zero":false},"axis":{"values":[200,400,600],"title":null}},"y":{"field":"ts","type":"quantitative","scale":{"domain":[-100,-50],"nice":false,"zero":false},"axis":{"values":[-100,-80,-60],"title":null}}},
 "layer":[{"data":{"name":"fm"},"mark":{"type":"line","clip":true}},{"data":{"name":"f1"},"mark":{"type":"point","clip":true}}]},
{"width":198,"height":146,"title":{"text":"ELASTIC–SHELLED"},
 "encoding":{"x":{"field":"freq","type":"quantitative","scale":{"domain":[200,800],"nice":false,"zero":false},"axis":{"values":[200,400,600],"title":null}},"y":{"field":"ts","type":"quantitative","scale":{"domain":[-100,-50],"nice":false,"zero":false},"axis":{"values":[-100,-80,-60],"title":null}}},
 "layer":[{"data":{"name":"em"},"mark":{"type":"line","clip":true}},{"data":{"name":"e1"},"mark":{"type":"point","clip":true}}]},
{"width":198,"height":146,
 "encoding":{"x":{"field":"freq","type":"quantitative","scale":{"domain":[200,800],"nice":false,"zero":false},"axis":{"values":[200,400,600],"title":null}},"y":{"field":"ts","type":"quantitative","scale":{"domain":[-100,-50],"nice":false,"zero":false},"axis":{"values":[-100,-80,-60],"title":"TARGET  STRENGTH (dB)"}}},
 "layer":[{"data":{"name":"gm"},"mark":{"type":"line","clip":true}},{"data":{"name":"g2"},"mark":{"type":"point","clip":true}}]},
{"width":198,"height":146,
 "encoding":{"x":{"field":"freq","type":"quantitative","scale":{"domain":[200,800],"nice":false,"zero":false},"axis":{"values":[200,400,600],"title":null}},"y":{"field":"ts","type":"quantitative","scale":{"domain":[-100,-50],"nice":false,"zero":false},"axis":{"values":[-100,-80,-60],"title":null}}},
 "layer":[{"data":{"name":"fm"},"mark":{"type":"line","clip":true}},{"data":{"name":"f2"},"mark":{"type":"point","clip":true}}]},
{"width":198,"height":146,
 "encoding":{"x":{"field":"freq","type":"quantitative","scale":{"domain":[200,800],"nice":false,"zero":false},"axis":{"values":[200,400,600],"title":null}},"y":{"field":"ts","type":"quantitative","scale":{"domain":[-100,-50],"nice":false,"zero":false},"axis":{"values":[-100,-80,-60],"title":null}}},
 "layer":[{"data":{"name":"em"},"mark":{"type":"line","clip":true}},{"data":{"name":"e2"},"mark":{"type":"point","clip":true}}]},
{"width":198,"height":146,
 "encoding":{"x":{"field":"freq","type":"quantitative","scale":{"domain":[200,800],"nice":false,"zero":false},"axis":{"values":[200,400,600],"title":null}},"y":{"field":"ts","type":"quantitative","scale":{"domain":[-100,-50],"nice":false,"zero":false},"axis":{"values":[-100,-80,-60],"title":null}}},
 "layer":[{"data":{"name":"gm"},"mark":{"type":"line","clip":true}},{"data":{"name":"g3"},"mark":{"type":"point","clip":true}}]},
{"width":198,"height":146,
 "encoding":{"x":{"field":"freq","type":"quantitative","scale":{"domain":[200,800],"nice":false,"zero":false},"axis":{"values":[200,400,600],"title":"FREQUENCY (kHz)"}},"y":{"field":"ts","type":"quantitative","scale":{"domain":[-100,-50],"nice":false,"zero":false},"axis":{"values":[-100,-80,-60],"title":null}}},
 "layer":[{"data":{"name":"fm"},"mark":{"type":"line","clip":true}},{"data":{"name":"f3"},"mark":{"type":"point","clip":true}}]},
{"width":198,"height":146,
 "encoding":{"x":{"field":"freq","type":"quantitative","scale":{"domain":[200,800],"nice":false,"zero":false},"axis":{"values":[200,400,600],"title":null}},"y":{"field":"ts","type":"quantitative","scale":{"domain":[-100,-50],"nice":false,"zero":false},"axis":{"values":[-100,-80,-60],"title":null}}},
 "layer":[{"data":{"name":"em"},"mark":{"type":"line","clip":true}},{"data":{"name":"e3"},"mark":{"type":"point","clip":true}}]}
],
"config": {
 "view": {"stroke": "black", "strokeWidth": 1.2},
 "axis": {"grid": false, "domain": false, "ticks": true, "tickColor": "black", "tickSize": -4, "tickWidth": 1, "labelFont": "Liberation Sans", "labelFontSize": 21, "labelColor": "black", "labelPadding": 6, "labelFlush": false, "labelOverlap": false, "labelBound": false, "titleFont": "Liberation Sans", "titleFontWeight": "bold", "titleColor": "black"},
 "axisX": {"labelPadding": 15, "titleFontSize": 24, "titlePadding": 1},
 "axisY": {"titleFontSize": 27, "titlePadding": 6},
 "title": {"font": "Liberation Sans", "fontSize": 26, "fontWeight": "bold", "color": "black", "offset": 15, "anchor": "middle"},
 "line": {"color": "black", "strokeWidth": 1.2},
 "point": {"shape": "M-1,0L1,0M0,-1L0,1", "size": 130, "filled": false, "color": "black", "strokeWidth": 1.8, "opacity": 1}
}
}
